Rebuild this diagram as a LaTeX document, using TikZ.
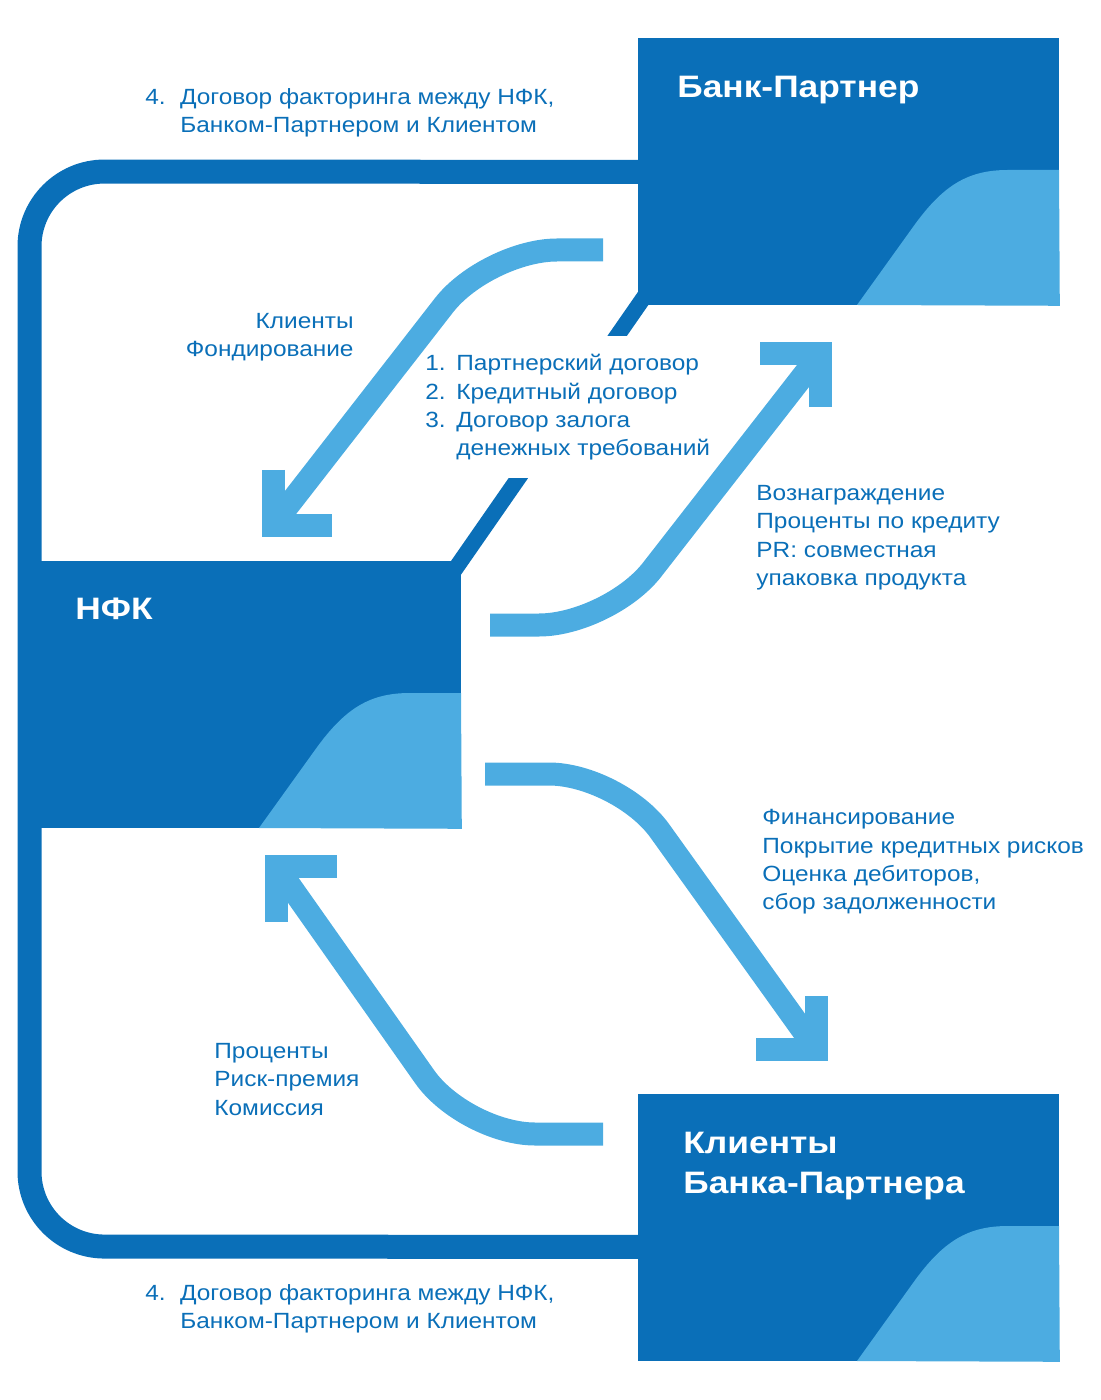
\documentclass[tikz,border=0pt]{standalone}
\usepackage{fontspec}
\setmainfont[FakeStretch=1.11, BoldFeatures={FakeStretch=1.14}]{Liberation Sans}
\usepackage{tikz}
\usetikzlibrary{positioning}
\definecolor{nfkblue}{HTML}{0A6FB8}
\definecolor{skyblue}{HTML}{4CACE1}
\tikzstyle{firm} = [rectangle, fill=nfkblue, minimum width=210.5pt,
minimum height=133.5pt, inner sep=0, anchor=north west]
\tikzstyle{firmname} = [font=\bfseries\fontsize{15.5}{20}\selectfont,
text=white, align=left, inner sep=0, anchor=north west]
\tikzstyle{note} = [font=\fontsize{11}{14.2}\selectfont, text=nfkblue,
align=left, inner sep=0, anchor=north west]
\tikzstyle{flow} = [line width=11.5pt, draw=skyblue, rounded corners=35pt]
\tikzstyle{flowhead} = [line width=11.5pt, draw=skyblue]
\tikzstyle{loopline} = [line width=12pt, draw=nfkblue, rounded corners=37.5pt]
\tikzstyle{link} = [line width=8pt, draw=nfkblue]
\newcommand{\itemno}[1]{\makebox[15.5pt][l]{#1}}

\begin{document}
\begin{tikzpicture}[x=0.5pt, y=-0.5pt]
\useasboundingbox (0,0) rectangle (1100,1400);

\node(bank)[firm] at (638,38) {};
\node(nfk)[firm] at (40,561) {};
\node(clients)[firm] at (638,1094) {};

\foreach \b in {bank,nfk,clients}
  \fill[skyblue] ([shift={(219,267)}]\b.north west) -- ([shift={(275,189)}]\b.north west)
    .. controls ([shift={(305,147)}]\b.north west) and ([shift={(330,132)}]\b.north west)
    .. ([shift={(370,132)}]\b.north west) -- ([shift={(421,132)}]\b.north west)
    -- (\b.south east) -- cycle;

% factoring contract loop
\draw[loopline] (bank.west) -- (29.5,171.5) -- (29.5,1246.5) -- ([yshift=-9.5pt]clients.west);
\draw[link] ([shift={(-8,10)}]nfk.north east) -- ([shift={(7,-10)}]bank.south west);

\node(docs)[note, fill=white, inner xsep=4pt, inner ysep=9pt] at (417,336)
{\itemno{1.}Партнерский договор\\ \itemno{2.}Кредитный договор\\
\itemno{3.}Договор залога\\ \hspace*{15.5pt}денежных требований};

\coordinate(tail1) at (603,250);
\coordinate(tip1) at (273,525);
\coordinate(tail2) at (490,625);
\coordinate(tip2) at (820.5,353.5);
\coordinate(tail3) at (485,774);
\coordinate(tip3) at (816.5,1049.5);
\coordinate(tail4) at (603,1134);
\coordinate(tip4) at (276.5,866.5);

\draw[flow](tail1) -- (487,250) -- (tip1);
\draw[flowhead]([shift={(0,-55)}]tip1) -- (tip1) -- ++(59,0);
\draw[flow](tail2) -- (609,625) -- (tip2);
\draw[flowhead]([shift={(-60.5,0)}]tip2) -- (tip2) -- ++(0,53.5);
\draw[flow](tail3) -- (619,774) -- (tip3);
\draw[flowhead]([shift={(0,-53.5)}]tip3) -- (tip3) -- ++(-60.5,0);
\draw[flow](tail4) -- (465,1134) -- (tip4);
\draw[flowhead]([shift={(60.5,0)}]tip4) -- (tip4) -- ++(0,55.5);

\node(topnote)[note] at (145,88)
{\itemno{4.}\,Договор факторинга между НФК,\\ \hspace*{17.5pt}Банком-Партнером и Клиентом};
\node(botnote)[note] at (145,1284)
{\itemno{4.}\,Договор факторинга между НФК,\\ \hspace*{17.5pt}Банком-Партнером и Клиентом};
\node(fund)[note, align=right, anchor=north east] at (354,313) {Клиенты\\ Фондирование};
\node(fee)[note] at (756,485)
{Вознаграждение\\ Проценты по кредиту\\ PR: совместная\\ упаковка продукта};
\node(fin)[note] at (762,809)
{Финансирование\\ Покрытие кредитных рисков\\ Оценка дебиторов,\\ сбор задолженности};
\node(pay)[note] at (214,1043) {Проценты\\ Риск-премия\\ Комиссия};

\node(bankname)[firmname, below right=19pt and 19.5pt of bank.north west] {Банк-Партнер};
\node(nfkname)[firmname, below right=18.5pt and 17.5pt of nfk.north west] {НФК};
\node(clientsname)[firmname, below right=19pt and 22.5pt of clients.north west]
{Клиенты\\ Банка-Партнера};

\end{tikzpicture}
\end{document}
